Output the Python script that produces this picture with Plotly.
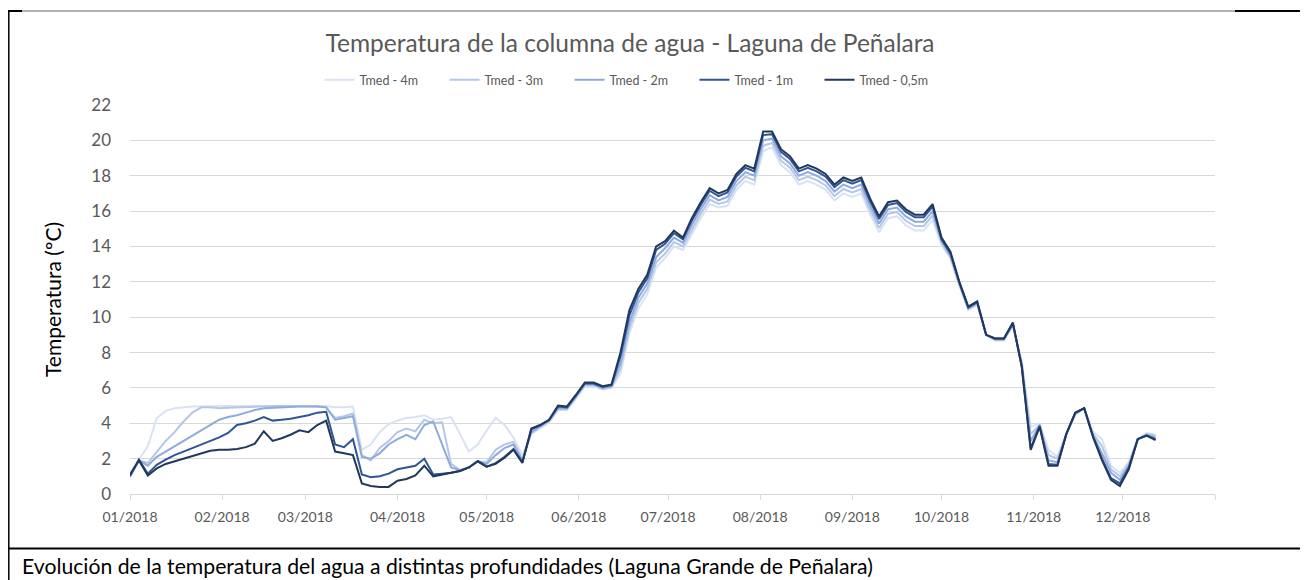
import pandas as pd
import plotly.graph_objects as go

# ---------------- data ----------------
dates = pd.date_range("2018-01-01", periods=116, freq="3D")

t_05m = [1.1, 1.9, 1.05, 1.45, 1.7, 1.85, 2.0, 2.15, 2.3, 2.45,
         2.5, 2.5, 2.55, 2.65, 2.85, 3.55, 3.0, 3.15, 3.35, 3.6,
         3.5, 3.9, 4.15, 2.4, 2.3, 2.2, 0.6, 0.45, 0.4, 0.4,
         0.75, 0.85, 1.05, 1.6, 1.0, 1.1, 1.2, 1.3, 1.5, 1.85,
         1.55, 1.7, 2.05, 2.5, 1.75, 3.7, 3.9, 4.2, 5.0, 4.95,
         5.6, 6.3, 6.3, 6.1, 6.2, 8.0, 10.4, 11.6, 12.4, 14.0,
         14.3, 14.9, 14.5, 15.6, 16.5, 17.3, 17.0, 17.2, 18.1, 18.6,
         18.4, 20.5, 20.5, 19.5, 19.1, 18.4, 18.6, 18.4, 18.1, 17.5,
         17.9, 17.7, 17.9, 16.7, 15.7, 16.5, 16.6, 16.1, 15.8, 15.8,
         16.4, 14.5, 13.7, 12.0, 10.6, 10.9, 9.0, 8.8, 8.8, 9.7,
         7.2, 2.5, 3.8, 1.6, 1.6, 3.4, 4.6, 4.85, 3.2, 1.9,
         0.8, 0.45, 1.4, 3.1, 3.3, 3.05]

t_1m = [1.0, 1.95, 1.15, 1.65, 1.95, 2.2, 2.4, 2.6, 2.8, 3.0,
        3.2, 3.45, 3.9, 4.0, 4.15, 4.35, 4.15, 4.2, 4.25, 4.35,
        4.45, 4.6, 4.65, 2.8, 2.65, 3.1, 1.1, 0.95, 1.0, 1.15,
        1.4, 1.5, 1.6, 2.0, 1.1, 1.15, 1.2, 1.3, 1.5, 1.85,
        1.55, 1.75, 2.1, 2.55, 1.8, 3.65, 3.9, 4.2, 4.95, 4.9,
        5.55, 6.25, 6.25, 6.05, 6.15, 7.8, 10.1, 11.4, 12.2, 13.8,
        14.15, 14.75, 14.4, 15.45, 16.35, 17.15, 16.85, 17.05, 17.95, 18.45,
        18.25, 20.3, 20.35, 19.35, 18.95, 18.25, 18.45, 18.25, 17.95, 17.35,
        17.75, 17.55, 17.75, 16.55, 15.55, 16.35, 16.45, 15.95, 15.65, 15.65,
        16.25, 14.4, 13.6, 11.95, 10.55, 10.85, 9.0, 8.8, 8.8, 9.65,
        7.2, 2.6, 3.85, 1.7, 1.65, 3.4, 4.6, 4.85, 3.25, 2.0,
        0.9, 0.6, 1.5, 3.1, 3.3, 3.1]

t_2m = [1.0, 1.9, 1.6, 2.1, 2.4, 2.7, 3.0, 3.3, 3.6, 3.9,
        4.2, 4.35, 4.45, 4.6, 4.75, 4.85, 4.88, 4.9, 4.92, 4.95,
        4.95, 4.95, 4.9, 4.2, 4.3, 4.4, 2.1, 2.0, 2.3, 2.8,
        3.1, 3.35, 3.1, 3.9, 4.1, 2.8, 1.5, 1.35, 1.5, 1.85,
        1.7, 2.2, 2.6, 2.8, 1.9, 3.5, 3.85, 4.15, 4.85, 4.85,
        5.5, 6.2, 6.2, 6.0, 6.1, 7.4, 9.7, 11.1, 11.9, 13.4,
        13.9, 14.5, 14.2, 15.2, 16.1, 16.9, 16.6, 16.8, 17.7, 18.2,
        18.0, 20.0, 20.1, 19.1, 18.7, 18.0, 18.2, 18.0, 17.7, 17.1,
        17.5, 17.3, 17.5, 16.3, 15.3, 16.1, 16.2, 15.7, 15.4, 15.4,
        16.0, 14.3, 13.5, 11.9, 10.5, 10.8, 9.0, 8.75, 8.75, 9.6,
        7.3, 3.0, 3.9, 1.9, 1.8, 3.4, 4.55, 4.85, 3.3, 2.3,
        1.2, 0.8, 1.6, 3.1, 3.35, 3.2]

t_3m = [1.0, 1.9, 1.75, 2.4, 3.0, 3.5, 4.1, 4.6, 4.9, 4.9,
        4.85, 4.88, 4.9, 4.95, 4.95, 4.97, 4.97, 4.97, 4.97, 4.97,
        4.97, 4.95, 4.9, 4.3, 4.4, 4.55, 2.2, 1.9, 2.6, 3.0,
        3.5, 3.7, 3.55, 4.2, 4.0, 4.05, 1.7, 1.35, 1.5, 1.85,
        1.8, 2.5, 2.8, 2.95, 1.95, 3.45, 3.8, 4.1, 4.8, 4.8,
        5.45, 6.15, 6.15, 5.95, 6.05, 7.1, 9.4, 10.8, 11.6, 13.1,
        13.6, 14.25, 14.0, 14.95, 15.85, 16.65, 16.4, 16.55, 17.45, 17.95,
        17.75, 19.7, 19.85, 18.85, 18.45, 17.75, 17.95, 17.75, 17.45, 16.85,
        17.25, 17.05, 17.25, 16.05, 15.05, 15.85, 15.95, 15.45, 15.15, 15.15,
        15.75, 14.2, 13.4, 11.85, 10.45, 10.75, 9.0, 8.7, 8.7, 9.55,
        7.4, 3.4, 3.9, 2.2, 2.0, 3.4, 4.5, 4.85, 3.4, 2.7,
        1.4, 1.0, 1.7, 3.1, 3.4, 3.3]

t_4m = [1.2, 1.95, 2.7, 4.3, 4.7, 4.85, 4.9, 4.95, 4.95, 4.97,
        4.97, 4.97, 4.97, 4.97, 4.97, 4.97, 4.97, 4.97, 4.97, 4.97,
        4.97, 4.97, 4.97, 4.9, 4.9, 4.95, 2.5, 2.8, 3.5, 3.95,
        4.15, 4.3, 4.35, 4.45, 4.2, 4.25, 4.35, 3.4, 2.4, 2.8,
        3.6, 4.3, 3.9, 3.2, 2.2, 3.4, 3.75, 4.05, 4.75, 4.75,
        5.4, 6.1, 6.1, 5.9, 6.0, 6.8, 9.1, 10.5, 11.3, 12.8,
        13.35, 14.0, 13.8, 14.7, 15.6, 16.4, 16.2, 16.3, 17.2, 17.7,
        17.5, 19.4, 19.6, 18.6, 18.2, 17.5, 17.7, 17.5, 17.2, 16.6,
        17.0, 16.8, 17.0, 15.8, 14.8, 15.6, 15.7, 15.2, 14.9, 14.9,
        15.5, 14.1, 13.3, 11.8, 10.4, 10.7, 9.0, 8.7, 8.7, 9.5,
        7.5, 3.8, 4.0, 2.5, 2.1, 3.4, 4.5, 4.85, 3.5, 3.1,
        1.6, 1.2, 1.8, 3.1, 3.45, 3.35]

series_names = ["Tmed - 4m", "Tmed - 3m", "Tmed - 2m", "Tmed - 1m", "Tmed - 0,5m"]
series_values = [t_4m, t_3m, t_2m, t_1m, t_05m]
series_colors = ["#d9e2f3", "#b4c7e7", "#8faadc", "#2f5597", "#22385b"]

month_ticks = ["2018-01-01", "2018-02-01", "2018-03-01", "2018-04-01", "2018-05-01",
               "2018-06-01", "2018-07-01", "2018-08-01", "2018-09-01", "2018-10-01",
               "2018-11-01", "2018-12-01", "2019-01-01"]
month_labels = ["01/2018", "02/2018", "03/2018", "04/2018", "05/2018", "06/2018",
                "07/2018", "08/2018", "09/2018", "10/2018", "11/2018", "12/2018", ""]
y_ticks = list(range(0, 23, 2))

title_text = "Temperatura de la columna de agua - Laguna de Peñalara"
caption_text = "Evolución de la temperatura del agua a distintas profundidades (Laguna Grande de Peñalara)"
y_title = "Temperatura (ºC)"

# ---------------- layout geometry ----------------
# the page body has an 8px margin: figure pixel = screen pixel - 8
OFF = 8
W, H = 1300, 572
L, R, T, B = 130 - OFF, W - (1215 - OFF), 105 - OFF, H - (494 - OFF)
PW, PH = W - L - R, H - T - B


def px(x):
    """screen x -> paper x"""
    return (x - OFF - L) / PW


def py(y):
    """screen y -> paper y"""
    return (H - B - (y - OFF)) / PH


FONT = "Lato"
GRAY = "#595959"

fig = go.Figure()
for name, vals, col in zip(series_names, series_values, series_colors):
    fig.add_trace(go.Scatter(x=dates, y=vals, mode="lines", name=name,
                             line=dict(color=col, width=2)))

fig.update_layout(
    width=W, height=H,
    margin=dict(l=L, r=R, t=T, b=B),
    paper_bgcolor="white", plot_bgcolor="white",
    font=dict(family=FONT, color=GRAY),
    title=dict(text=title_text, x=(630 - OFF) / W, xanchor="center",
               y=1 - (43 - OFF) / H, yanchor="middle", yref="container",
               font=dict(size=24.5, color=GRAY, family=FONT)),
    legend=dict(orientation="h", x=px(632), xanchor="center", y=py(80), yanchor="middle",
                font=dict(size=12.5, color=GRAY), bgcolor="rgba(0,0,0,0)",
                entrywidth=80, entrywidthmode="pixels", traceorder="normal"),
    showlegend=True,
)

fig.update_xaxes(
    type="date", range=["2018-01-01", "2019-01-01"],
    tickmode="array", tickvals=month_ticks, ticktext=month_labels,
    ticks="outside", ticklen=5, tickcolor="#d9d9d9",
    showline=True, linecolor="#d9d9d9", linewidth=1,
    showgrid=False, zeroline=False,
    tickfont=dict(size=14, color=GRAY), ticklabelstandoff=5,
)
fig.update_yaxes(
    range=[0, 22], tickmode="array", tickvals=y_ticks,
    showgrid=True, gridcolor="#d9d9d9", gridwidth=1,
    zeroline=False, showline=False, ticks="",
    tickfont=dict(size=17, color=GRAY), ticklabelstandoff=18,
)

# y-axis title
fig.add_annotation(text=y_title, xref="paper", yref="paper",
                   x=px(52), y=py(300), textangle=-90, showarrow=False,
                   font=dict(size=21, color="#000000", family=FONT),
                   xanchor="center", yanchor="middle")

# caption
fig.add_annotation(text=caption_text, xref="paper", yref="paper",
                   x=px(20), y=py(566), showarrow=False, xanchor="left", yanchor="middle",
                   font=dict(size=21.2, color="#000000", family=FONT))

# frame lines
fig.add_shape(type="line", xref="paper", yref="paper",
              x0=px(8), x1=px(1235), y0=py(11), y1=py(11),
              line=dict(color="#666666", width=1))
fig.add_shape(type="line", xref="paper", yref="paper",
              x0=px(8), x1=px(22), y0=py(11), y1=py(11),
              line=dict(color="#000000", width=2))
fig.add_shape(type="line", xref="paper", yref="paper",
              x0=px(1235), x1=px(1308), y0=py(11), y1=py(11),
              line=dict(color="#000000", width=2))
fig.add_shape(type="line", xref="paper", yref="paper",
              x0=px(8.8), x1=px(8.8), y0=py(11), y1=py(580),
              line=dict(color="#000000", width=1.5))
fig.add_shape(type="line", xref="paper", yref="paper",
              x0=px(8), x1=px(1308), y0=py(548.5), y1=py(548.5),
              line=dict(color="#000000", width=2))

fig.write_html("out.html")
